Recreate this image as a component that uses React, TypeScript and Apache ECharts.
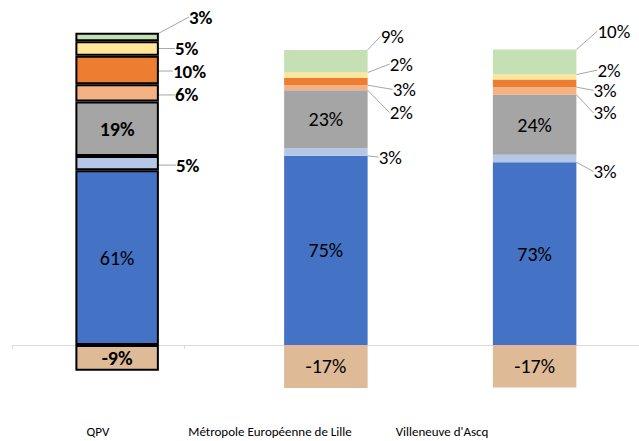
import React, { useEffect, useRef } from 'react';
import * as echarts from 'echarts';

const categories = ['QPV', 'Métropole Européenne de Lille', "Villeneuve d'Ascq"];
const segmentNames = ['Part 1', 'Part 2', 'Part 3', 'Part 4', 'Part 5', 'Part 6', 'Part 7', 'Part 8'];
const blueValues = [61, 75, 73];
const lightBlueValues = [5, 3, 3];
const grayValues = [19, 23, 24];
const lightOrangeValues = [6, 2, 3];
const orangeValues = [10, 3, 3];
const yellowValues = [5, 2, 2];
const greenValues = [3, 9, 10];
const negativeValues = [-9, -17, -17];

const allValues = [blueValues, lightBlueValues, grayValues, lightOrangeValues, orangeValues, yellowValues, greenValues, negativeValues];
const colors = ['#4472C4', '#B4C7E7', '#A5A5A5', '#F4B183', '#ED7D31', '#FFE699', '#C5E0B4', '#DFBA96'];
const insideLabel = [true, false, true, false, false, false, false, true];
// label offsets [dx, dy] for outside labels, per category
const labelShift: Record<number, number[][]> = {
  1: [[7, 2], [1, 5], [7, 13]],
  3: [[6, 2], [12, 25], [7, 22]],
  4: [[4, 1], [15, 8], [7, 7]],
  5: [[6, 0], [12, -11], [11, -7]],
  6: [[20, -20], [3, -25], [11, -31]],
};
const FONT = 'Carlito, "Liberation Sans", sans-serif';

export default function App() {
  const ref = useRef<HTMLDivElement>(null);
  useEffect(() => {
    document.body.style.margin = '0';
    if (!ref.current) return;
    const chart = echarts.init(ref.current, undefined, { renderer: 'svg' });
    const sumAbs = categories.map((_, i) => allValues.reduce((s, arr) => s + Math.abs(arr[i]), 0));
    const series = allValues.map((vals, si) => {
      const inside = insideLabel[si];
      const s: any = {
        name: segmentNames[si],
        type: 'bar',
        stack: 'total',
        xAxisIndex: 0,
        yAxisIndex: 0,
        barWidth: '40%',
        itemStyle: { color: colors[si] },
        label: {
          show: true,
          position: inside ? 'inside' : 'right',
          distance: 10,
          color: '#000',
          fontSize: inside ? 20 : 19,
          fontFamily: FONT,
          formatter: (p: any) => `${vals[p.dataIndex]}%`,
        },
        data: vals.map((v, i) => ({
          value: (v * 100) / sumAbs[i],
          itemStyle: i === 0 ? { borderColor: '#000', borderWidth: 2 } : { borderWidth: 0 },
          label: { fontWeight: i === 0 && si !== 0 ? 'bold' : 'normal' },
        })),
      };
      if (!inside) {
        s.labelLine = { show: true, lineStyle: { color: '#A6A6A6', width: 1 } };
        s.labelLayout = (p: any) => {
          const sh = labelShift[si][p.dataIndex];
          return { dx: sh[0], dy: sh[1] };
        };
      }
      return s;
    });
    chart.setOption({
      animation: false,
      textStyle: { fontFamily: FONT },
      grid: [
        { left: 12.75, width: 631.5, top: 7, height: 405.6 },
        { left: 12, width: 516, top: 7, height: 338 },
      ],
      xAxis: [
        {
          type: 'category',
          gridIndex: 0,
          data: categories,
          axisLine: { show: true, onZero: true, lineStyle: { color: '#D9D9D9', width: 1 } },
          axisTick: { show: false },
          axisLabel: { show: false },
        },
        {
          type: 'category',
          gridIndex: 1,
          data: categories,
          axisLine: { show: false },
          axisTick: { show: true, length: 4, lineStyle: { color: '#D9D9D9' }, interval: 0 },
          axisLabel: { show: true, margin: 80, fontSize: 13, color: '#000', fontFamily: FONT, interval: 0 },
        },
      ],
      yAxis: [
        { type: 'value', gridIndex: 0, min: -20, max: 100, show: false },
        { type: 'value', gridIndex: 1, min: 0, max: 1, show: false },
      ],
      series,
    });
    return () => chart.dispose();
  }, []);
  return <div ref={ref} style={{ width: 639, height: 441 }} />;
}
